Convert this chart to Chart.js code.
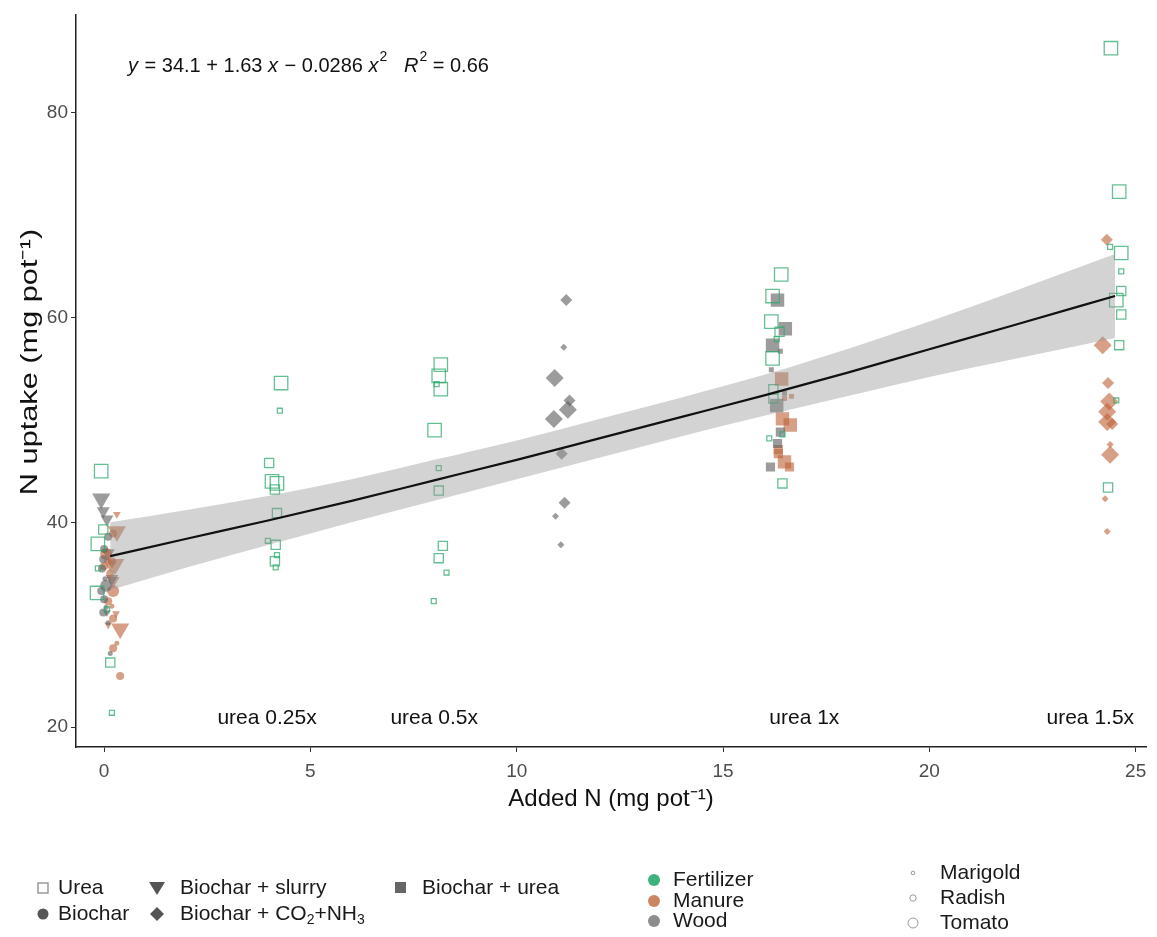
<!DOCTYPE html>
<html>
<head>
<meta charset="utf-8">
<script src="https://cdn.jsdelivr.net/npm/chart.js@4.4.1/dist/chart.umd.min.js"></script>
<style>
  html, body { margin: 0; padding: 0; background: #fff; }
  #wrap { width: 1157px; height: 937px; }
</style>
</head>
<body>
<div id="wrap"><canvas id="chart" width="1157" height="937"></canvas></div>
<script>
// ---- data: [added N, N uptake, plant] ----
// plant: M = Marigold (small), R = Radish (medium), T = Tomato (large)

const ureaFert = [
  [-0.07, 45.0, 'T'], [-0.02, 39.3, 'R'], [-0.15, 37.9, 'T'], [-0.15, 35.5, 'M'],
  [-0.17, 33.1, 'T'], [0.07, 31.5, 'M'], [0.15, 26.3, 'R'], [0.19, 21.4, 'M'],
  [4.29, 53.6, 'T'], [4.26, 50.9, 'M'], [4.0, 45.8, 'R'], [4.07, 44.0, 'T'],
  [4.19, 43.8, 'T'], [4.14, 43.2, 'R'], [4.19, 40.9, 'R'], [3.97, 38.2, 'M'],
  [4.16, 37.8, 'R'], [4.19, 36.8, 'M'], [4.14, 36.2, 'R'], [4.16, 35.6, 'M'],
  [8.16, 55.4, 'T'], [8.11, 54.3, 'T'], [8.06, 53.5, 'M'], [8.16, 53.0, 'T'],
  [8.01, 49.0, 'T'], [8.11, 45.3, 'M'], [8.11, 43.1, 'R'], [8.21, 37.7, 'R'],
  [8.11, 36.5, 'R'], [8.3, 35.1, 'M'], [7.99, 32.3, 'M'],
  [16.41, 64.2, 'T'], [16.2, 62.1, 'T'], [16.17, 59.6, 'T'], [16.37, 58.6, 'R'],
  [16.3, 57.9, 'M'], [16.2, 56.0, 'T'], [16.22, 53.0, 'R'], [16.22, 52.1, 'R'],
  [16.12, 48.2, 'M'], [16.44, 48.6, 'M'], [16.44, 43.8, 'R'],
  [24.4, 86.3, 'T'], [24.6, 72.3, 'T'], [24.38, 66.9, 'M'], [24.65, 66.3, 'T'],
  [24.65, 64.5, 'M'], [24.65, 62.6, 'R'], [24.53, 61.7, 'T'], [24.65, 60.3, 'R'],
  [24.6, 57.3, 'R'], [24.53, 51.9, 'M'], [24.33, 43.4, 'R']
];

const biocharWood = [
  [0.1, 38.6, 'R'], [0.0, 37.4, 'R'], [-0.02, 36.4, 'R'], [-0.05, 35.5, 'R'],
  [0.02, 34.5, 'M'], [-0.07, 33.3, 'R'], [0.0, 32.5, 'R'], [0.05, 31.7, 'M'],
  [-0.02, 31.2, 'R'], [0.1, 30.2, 'M'], [0.15, 27.2, 'M'], [0.05, 33.8, 'T']
];
const biocharManure = [
  [0.05, 36.9, 'T'], [0.19, 36.2, 'R'], [0.0, 35.7, 'R'], [0.15, 35.0, 'R'],
  [0.22, 33.3, 'T'], [0.1, 32.3, 'R'], [0.19, 31.8, 'M'], [0.22, 30.6, 'R'],
  [0.31, 28.2, 'M'], [0.22, 27.7, 'R'], [0.39, 25.0, 'R'], [0.22, 38.9, 'R']
];

const slurryWood = [
  [-0.07, 42.3, 'T'], [-0.02, 41.1, 'R'], [0.07, 40.3, 'R'], [0.1, 37.0, 'R'],
  [0.19, 34.5, 'R'], [0.07, 31.2, 'M']
];
const slurryManure = [
  [0.31, 40.8, 'M'], [0.31, 39.1, 'T'], [0.27, 35.9, 'T'], [0.22, 34.3, 'R'],
  [0.29, 31.1, 'M'], [0.39, 29.6, 'T'], [0.1, 30.0, 'M'], [0.15, 35.9, 'R']
];

const co2Wood = [
  [11.2, 61.7, 'R'], [11.14, 57.1, 'M'], [10.92, 54.1, 'T'], [11.28, 51.9, 'R'],
  [11.24, 51.0, 'T'], [10.9, 50.1, 'T'], [11.09, 46.7, 'R'], [11.16, 41.9, 'R'],
  [10.94, 40.6, 'M'], [11.07, 37.8, 'M']
];
const co2Manure = [
  [24.3, 67.6, 'R'], [24.2, 57.3, 'T'], [24.33, 53.6, 'R'], [24.36, 51.8, 'T'],
  [24.31, 50.8, 'T'], [24.31, 49.8, 'T'], [24.43, 49.6, 'R'], [24.38, 47.6, 'M'],
  [24.38, 46.6, 'T'], [24.26, 42.3, 'M'], [24.31, 39.1, 'M']
];

const bUreaWood = [
  [16.32, 61.7, 'T'], [16.51, 58.9, 'T'], [16.2, 57.3, 'T'], [16.39, 56.7, 'M'],
  [16.17, 54.9, 'M'], [16.49, 52.6, 'M'], [16.3, 51.4, 'T'], [16.39, 48.8, 'R'],
  [16.32, 47.7, 'R'], [16.15, 45.4, 'R']
];
const bUreaManure = [
  [16.42, 54.0, 'T'], [16.49, 52.1, 'M'], [16.66, 52.3, 'M'], [16.44, 50.1, 'T'],
  [16.63, 49.5, 'T'], [16.34, 47.1, 'R'], [16.34, 46.7, 'R'], [16.49, 45.9, 'T'],
  [16.61, 45.4, 'R']
];

// fitted curve and its confidence band
const fitX  = [0.15, 2, 4, 6, 8, 10, 12, 14, 16, 18, 20, 22, 24.5];
const fitY  = [36.7, 38.4, 40.2, 42.1, 44.1, 46.1, 48.2, 50.3, 52.4, 54.6, 56.9, 59.2, 62.1];
const bandHi = [40.0, 41.2, 42.6, 44.2, 46.1, 48.0, 50.1, 52.2, 54.4, 56.9, 59.6, 62.5, 66.2];
const bandLo = [33.4, 35.6, 37.8, 40.0, 42.1, 44.2, 46.3, 48.4, 50.4, 52.3, 54.2, 55.9, 58.0];

const xTicks = [0, 5, 10, 15, 20, 25];
const yTicks = [20, 40, 60, 80];

const doseLabels = ['urea 0.25x', 'urea 0.5x', 'urea 1x', 'urea 1.5x'];
const doseLabelX = [3.95, 8.0, 16.97, 23.9];
const doseLabelY = 20.9;

const yTitle = 'N uptake (mg pot\u207B\u00B9)';
const shapeLegend = ['Urea', 'Biochar', 'Biochar + slurry', 'Biochar + CO2+NH3', 'Biochar + urea'];
const colourLegend = ['Fertilizer', 'Manure', 'Wood'];
const sizeLegend = ['Marigold', 'Radish', 'Tomato'];

// ------------------------------------------------------------

const FONT = '"Liberation Sans", Arial, Helvetica, sans-serif';
const GREEN = 'rgba(48,170,110,0.75)';
const MANURE = 'rgba(190,100,60,0.62)';
const WOOD = 'rgba(95,95,95,0.62)';

const SIZE = {
  rect:     { M: 3.5, R: 6.5, T: 9.5 },
  circle:   { M: 2.5, R: 4,   T: 6 },
  triangle: { M: 4.5, R: 7.5, T: 10.5 },
  rectRot:  { M: 3.5, R: 6,   T: 9 }
};

function pts(arr) {
  return arr.map(([x, y, p]) => ({ x, y, p }));
}

function pointSet(label, arr, style, fill, stroke, rot) {
  return {
    type: 'scatter',
    label,
    data: pts(arr),
    pointStyle: style,
    pointRotation: rot || 0,
    backgroundColor: fill,
    borderColor: stroke,
    borderWidth: stroke === 'transparent' ? 0 : 1.3,
    pointRadius: (c) => SIZE[style][c.raw ? c.raw.p : 'R'],
    pointHoverRadius: (c) => SIZE[style][c.raw ? c.raw.p : 'R'],
    order: 2
  };
}

function curve(ys) {
  return fitX.map((x, i) => ({ x, y: ys[i] }));
}

// equation + dose labels + y title + the three legends
const annotate = {
  id: 'annotate',
  afterDraw(chart) {
    const { ctx, scales: { x, y } } = chart;
    ctx.save();
    ctx.textBaseline = 'middle';

    // y title (the original is stretched along its length)
    ctx.save();
    ctx.translate(30, 362);
    ctx.rotate(-Math.PI / 2);
    ctx.scale(1.28, 1);
    ctx.font = `24px ${FONT}`;
    ctx.fillStyle = '#111';
    ctx.textAlign = 'center';
    ctx.fillText(yTitle, 0, 0);
    ctx.restore();

    // dose labels
    ctx.fillStyle = '#111';
    ctx.textAlign = 'center';
    ctx.font = `21px ${FONT}`;
    doseLabels.forEach((t, i) => {
      ctx.fillText(t, x.getPixelForValue(doseLabelX[i]), y.getPixelForValue(doseLabelY));
    });

    // equation
    ctx.textAlign = 'left';
    const eq = [['y', 'i'], [' = 34.1 + 1.63 ', 'n'], ['x', 'i'], [' \u2212 0.0286 ', 'n'], ['x', 'i'],
      ['2', 's'], ['   ', 'n'], ['R', 'i'], ['2', 's'], [' = 0.66', 'n']];
    let ex = x.getPixelForValue(0.58);
    const ey = y.getPixelForValue(84.5);
    for (const [t, s] of eq) {
      if (s === 'i') ctx.font = `italic 20px ${FONT}`;
      else if (s === 's') ctx.font = `14px ${FONT}`;
      else ctx.font = `20px ${FONT}`;
      ctx.fillText(t, ex, s === 's' ? ey - 9 : ey);
      ex += ctx.measureText(t).width + (s === 'i' ? 1 : 0);
    }

    // shape legend
    ctx.font = `21px ${FONT}`;
    ctx.fillStyle = '#1a1a1a';
    const r1 = 888, r2 = 914;
    // open square (Urea)
    ctx.strokeStyle = '#8a8a8a'; ctx.lineWidth = 1.3;
    ctx.strokeRect(38, r1 - 5, 10, 10);
    ctx.fillText(shapeLegend[0], 58, r1);
    // circle (Biochar)
    ctx.fillStyle = '#555';
    ctx.beginPath(); ctx.arc(43, r2, 5.5, 0, Math.PI * 2); ctx.fill();
    ctx.fillStyle = '#1a1a1a';
    ctx.fillText(shapeLegend[1], 58, r2);
    // triangle down (slurry)
    ctx.fillStyle = '#555';
    ctx.beginPath(); ctx.moveTo(149, r1 - 6); ctx.lineTo(165, r1 - 6); ctx.lineTo(157, r1 + 7); ctx.closePath(); ctx.fill();
    ctx.fillStyle = '#1a1a1a';
    ctx.fillText(shapeLegend[2], 180, r1);
    // diamond (CO2 + NH3) with subscripts
    ctx.fillStyle = '#555';
    ctx.beginPath(); ctx.moveTo(157, r2 - 7); ctx.lineTo(164, r2); ctx.lineTo(157, r2 + 7); ctx.lineTo(150, r2); ctx.closePath(); ctx.fill();
    ctx.fillStyle = '#1a1a1a';
    let lx = 180;
    for (const [t, sub] of [['Biochar + CO', false], ['2', true], ['+NH', false], ['3', true]]) {
      ctx.font = sub ? `14px ${FONT}` : `21px ${FONT}`;
      ctx.fillText(t, lx, sub ? r2 + 6 : r2);
      lx += ctx.measureText(t).width;
    }
    ctx.font = `21px ${FONT}`;
    // filled square (Biochar + urea)
    ctx.fillStyle = '#666';
    ctx.fillRect(395, r1 - 6, 11, 11);
    ctx.fillStyle = '#1a1a1a';
    ctx.fillText(shapeLegend[4], 422, r1);

    // colour legend
    const cCols = ['#3fb27c', '#cc8563', '#8d8d8d'];
    const cY = [880, 901, 921];
    colourLegend.forEach((t, i) => {
      ctx.fillStyle = cCols[i];
      ctx.beginPath(); ctx.arc(654, cY[i], 6, 0, Math.PI * 2); ctx.fill();
      ctx.fillStyle = '#1a1a1a';
      ctx.fillText(t, 673, cY[i]);
    });

    // size legend
    const sR = [1.8, 3.2, 5];
    const sY = [873, 898, 923];
    sizeLegend.forEach((t, i) => {
      ctx.strokeStyle = '#9a9a9a'; ctx.lineWidth = 1;
      ctx.beginPath(); ctx.arc(913, sY[i], sR[i], 0, Math.PI * 2); ctx.stroke();
      ctx.fillStyle = '#1a1a1a';
      ctx.fillText(t, 940, sY[i]);
    });

    ctx.restore();
  }
};

const axisCommon = {
  type: 'linear',
  border: { display: true, color: '#222', width: 1.5 },
  grid: { display: true, drawOnChartArea: false, drawTicks: true, tickLength: 5, color: '#333', lineWidth: 1 },
  ticks: { font: { size: 19, family: FONT }, color: '#4d4d4d', maxRotation: 0 }
};

new Chart(document.getElementById('chart'), {
  type: 'scatter',
  data: {
    datasets: [
      {
        type: 'line', label: 'fit', data: curve(fitY),
        borderColor: '#111', borderWidth: 2.2, pointRadius: 0, fill: false,
        cubicInterpolationMode: 'monotone', order: 0
      },
      {
        type: 'line', label: 'band hi', data: curve(bandHi),
        borderWidth: 0, pointRadius: 0, fill: '+1',
        backgroundColor: 'rgba(150,150,150,0.42)', borderColor: 'transparent',
        cubicInterpolationMode: 'monotone', order: 1
      },
      {
        type: 'line', label: 'band lo', data: curve(bandLo),
        borderWidth: 0, pointRadius: 0, fill: false, borderColor: 'transparent',
        cubicInterpolationMode: 'monotone', order: 1
      },
      pointSet('Urea', ureaFert, 'rect', 'transparent', GREEN),
      pointSet('Biochar wood', biocharWood, 'circle', WOOD, 'transparent'),
      pointSet('Biochar manure', biocharManure, 'circle', MANURE, 'transparent'),
      pointSet('Slurry wood', slurryWood, 'triangle', WOOD, 'transparent', 180),
      pointSet('Slurry manure', slurryManure, 'triangle', MANURE, 'transparent', 180),
      pointSet('CO2 wood', co2Wood, 'rectRot', WOOD, 'transparent'),
      pointSet('CO2 manure', co2Manure, 'rectRot', MANURE, 'transparent'),
      pointSet('B+urea wood', bUreaWood, 'rect', WOOD, 'transparent'),
      pointSet('B+urea manure', bUreaManure, 'rect', MANURE, 'transparent')
    ]
  },
  options: {
    responsive: false,
    animation: false,
    layout: { padding: { top: 10, right: 11, bottom: 120, left: 0 } },
    plugins: { legend: { display: false }, tooltip: { enabled: false } },
    scales: {
      x: {
        ...axisCommon,
        min: -0.68, max: 25.25,
        afterBuildTicks: (s) => { s.ticks = xTicks.map(v => ({ value: v })); },
        afterFit: (s) => { s.height = 70; },
        ticks: { ...axisCommon.ticks, padding: 8 },
        title: { display: true, text: 'Added N (mg pot\u207B\u00B9)', color: '#111',
                 font: { size: 24, family: FONT }, padding: { top: 0, bottom: 3 } }
      },
      y: {
        ...axisCommon,
        min: 18.06, max: 89.6,
        afterBuildTicks: (s) => { s.ticks = yTicks.map(v => ({ value: v })); },
        afterFit: (s) => { s.width = 76; },
        ticks: { ...axisCommon.ticks, padding: 3 },
        title: { display: false }
      }
    }
  },
  plugins: [annotate]
});
</script>
</body>
</html>
